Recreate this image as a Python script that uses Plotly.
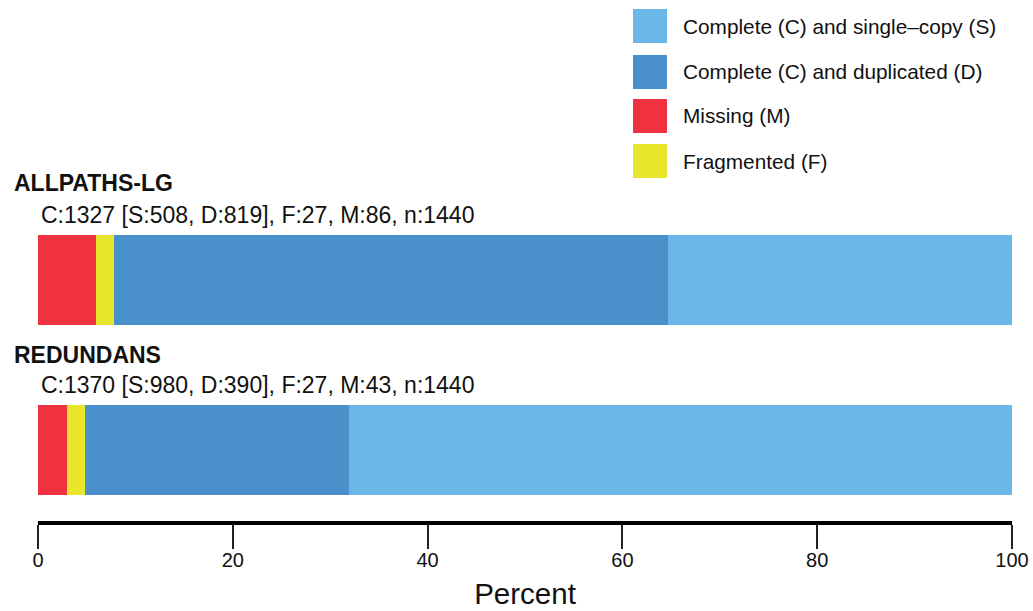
import plotly.graph_objects as go

# ---- data ----
assemblies = ["ALLPATHS-LG", "REDUNDANS"]
total_n = [1440, 1440]
complete = [1327, 1370]
single_copy = [508, 980]
duplicated = [819, 390]
fragmented = [27, 27]
missing = [86, 43]

categories = ["Missing (M)", "Fragmented (F)", "Complete (C) and duplicated (D)", "Complete (C) and single\u2013copy (S)"]
legend_order = ["Complete (C) and single\u2013copy (S)", "Complete (C) and duplicated (D)", "Missing (M)", "Fragmented (F)"]
colors = {
    "Missing (M)": "#F0313F",
    "Fragmented (F)": "#E8E62A",
    "Complete (C) and duplicated (D)": "#4A90CB",
    "Complete (C) and single\u2013copy (S)": "#6BB7E8",
}
x_ticks = [0, 20, 40, 60, 80, 100]

counts = {
    "Missing (M)": missing,
    "Fragmented (F)": fragmented,
    "Complete (C) and duplicated (D)": duplicated,
    "Complete (C) and single\u2013copy (S)": single_copy,
}

W, H = 1033, 611
L, R, T, B = 38, 21, 0, 90
pw, ph = W - L - R, H - T - B

def px(xp):
    return (xp - L) / pw

def py(yp):
    return (H - B - yp) / ph

fig = go.Figure()
ypos = list(range(len(assemblies)))
for cat in categories:
    pct = [100.0 * c / n for c, n in zip(counts[cat], total_n)]
    fig.add_trace(go.Bar(
        x=pct, y=ypos, orientation="h", name=cat,
        marker=dict(color=colors[cat], line=dict(width=0)),
        width=90 / 170, showlegend=False, hoverinfo="x+name",
    ))

# y mapping: y=0 center at 280px, y=1 center at 450px, 170 px per unit
y_top = 0 - 280 / 170
y_bot = 1 + (521 - 450) / 170

annotations = []
shapes = []
font_family = "Liberation Sans, Arial, sans-serif"
for i, name in enumerate(assemblies):
    title_y = 183 + i * 172
    sub_y = 215 + i * 170
    annotations.append(dict(
        x=px(12), y=py(title_y), xref="paper", yref="paper", xanchor="left", yanchor="middle",
        text="<b>%s</b>" % name, showarrow=False, font=dict(size=23, color="#111", family=font_family)))
    sub = "C:%d [S:%d, D:%d], F:%d, M:%d, n:%d" % (
        complete[i], single_copy[i], duplicated[i], fragmented[i], missing[i], total_n[i])
    annotations.append(dict(
        x=px(39), y=py(sub_y), xref="paper", yref="paper", xanchor="left", yanchor="middle",
        text=sub, showarrow=False, font=dict(size=23, color="#111", family=font_family)))

leg_y = [26, 72, 116, 161]
for cat, yc in zip(legend_order, leg_y):
    shapes.append(dict(type="rect", xref="paper", yref="paper",
                       x0=px(633), x1=px(667), y0=py(yc - 17), y1=py(yc + 17),
                       fillcolor=colors[cat], line=dict(width=0)))
    annotations.append(dict(
        x=px(681), y=py(yc), xref="paper", yref="paper", xanchor="left", yanchor="middle",
        text=cat, showarrow=False, font=dict(size=20.8, color="#111", family=font_family)))

fig.update_layout(
    width=W, height=H,
    margin=dict(l=L, r=R, t=T, b=B, pad=0),
    paper_bgcolor="white", plot_bgcolor="white",
    barmode="stack", bargap=0,
    xaxis=dict(range=[0, 100], tickvals=x_ticks, showgrid=False, zeroline=False,
               showline=True, linecolor="black", linewidth=4,
               ticks="outside", ticklen=24, tickwidth=1.5, tickcolor="#222",
               ticklabelstandoff=-6,
               tickfont=dict(size=20, color="#111", family=font_family),
               title=dict(text="Percent", font=dict(size=29.5, color="#111", family=font_family), standoff=14),
               fixedrange=True),
    yaxis=dict(range=[y_bot, y_top], visible=False, showgrid=False, zeroline=False, fixedrange=True),
    annotations=annotations, shapes=shapes,
    showlegend=False,
)

fig.write_html(
    "out.html",
    config={"displayModeBar": False},
    post_script="document.body.style.margin='0';document.body.style.overflow='hidden';",
)
